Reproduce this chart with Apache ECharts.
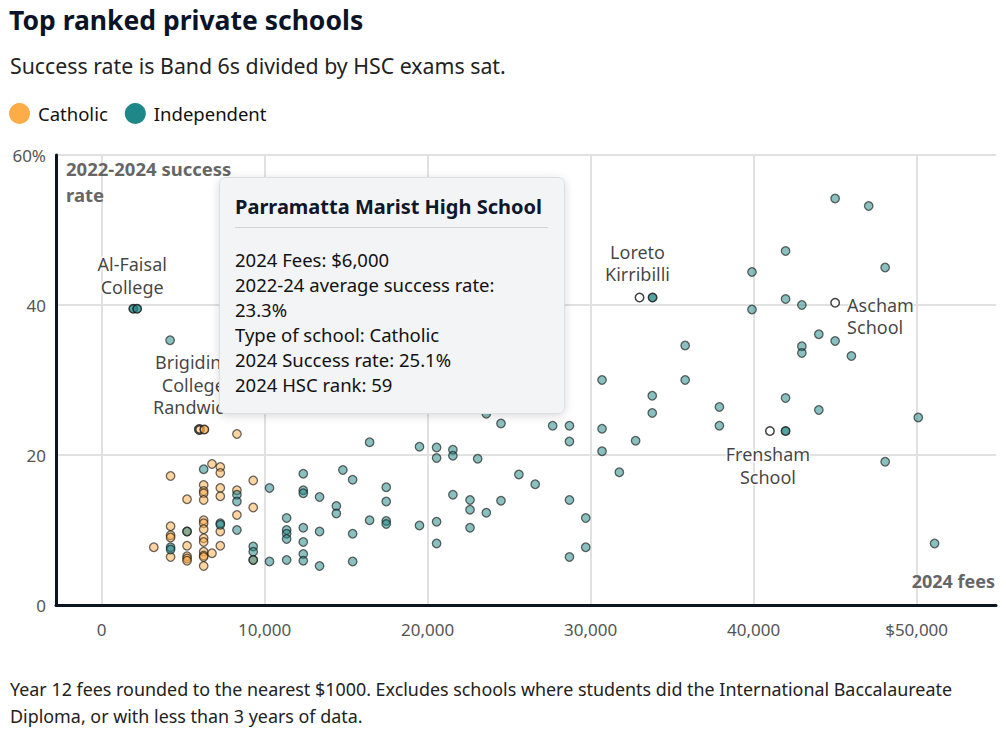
<!DOCTYPE html>
<html><head><meta charset="utf-8">
<script src="https://cdn.jsdelivr.net/npm/echarts@6/dist/echarts.min.js"></script>
<style>html,body{margin:0;padding:0;background:#fff}#c{width:1006px;height:734px}</style>
</head><body><div id="c"></div>
<script>
// ---- data (fees in $, success rate in %) ----
const catholicFees = [4230,6770,7280,7280,6260,6260,6260,6260,5240,7280,7280,8300,9300,9300,8300,4230,4230,4230,4230,3200,5240,5240,5240,5240,6260,6260,6260,6260,6260,6260,6260,6260,6260,6770,7280,7280,8300,5240,9300];
const catholicRate = [17.2,18.8,18.4,17.6,16.0,15.2,14.9,14.0,14.1,15.6,14.5,15.3,16.6,13.0,12.0,10.5,9.3,9.0,6.4,7.7,7.9,6.5,6.2,5.9,11.3,10.9,10.1,8.9,8.4,7.1,6.6,6.4,5.2,6.9,9.8,7.9,22.8,9.8,6.0];

const independentFees = [6260,4230,4230,5240,7280,7280,8300,8300,8300,9300,9300,9300,10300,10300,11350,11350,11350,11350,11350,12370,12370,12370,12370,12370,12370,12370,13370,13370,13370,14400,14400,14800,15400,15400,15400,16440,16440,17460,17460,17460,17460,19500,19500,20550,20550,20550,20550,21550,21550,21550,22600,22600,22600,23070,23600,23600,24500,24500,25600,26600,27670,28700,28700,28700,28700,29700,29700,30700,30700,30700,31760,32760,33780,33780,35800,35800,37900,37900,39900,39900,41960,41960,41960,42960,42960,42960,44000,44000,45000,45000,46000,47060,48070,48070,50100,51100,4200];
const independentRate = [18.1,7.7,7.4,9.8,10.9,10.7,10.0,14.7,13.8,7.8,7.1,6.0,15.6,5.8,11.6,10.0,9.5,8.8,6.0,17.5,15.3,14.9,10.3,8.4,6.8,5.9,14.4,9.8,5.2,13.2,12.2,18.0,16.7,9.5,5.8,21.7,11.3,15.7,13.8,11.2,10.8,21.1,10.6,21.0,19.6,11.1,8.2,20.7,19.9,14.7,14.0,12.7,10.3,19.5,25.5,12.3,24.2,13.9,17.4,16.1,23.9,23.9,21.8,14.0,6.4,11.6,7.7,30.0,23.5,20.5,17.7,21.9,27.9,25.6,34.6,30.0,26.4,23.9,44.4,39.4,47.2,40.8,27.6,40.0,34.5,33.6,36.1,26.0,54.2,35.2,33.2,53.2,45.0,19.1,25.0,8.2,35.3];

// annotated / highlighted schools
const highlightSchools = ['Al-Faisal College','Al-Faisal College','Parramatta Marist High School','Brigidine College Randwick','Loreto Kirribilli','Frensham School'];
const highlightFees = [1940,2180,6000,6300,33800,41960];
const highlightRate = [39.5,39.5,23.4,23.4,41.0,23.2];
const highlightType = ['Independent','Independent','Catholic','Catholic','Independent','Independent'];

const outlineSchools = ['Loreto Kirribilli','Ascham School','Frensham School'];
const outlineFees = [33000,45000,41000];
const outlineRate = [41.0,40.3,23.2];

const xTicks = [0,10000,20000,30000,40000,50000];

// ---- styles ----
const FONT = 'Noto Sans';
const COLORS = {Catholic:'#fdac48', Independent:'#1e8787'};
const labelBase = {show:true, fontFamily:FONT, fontSize:18, lineHeight:22.5, color:'#111', textBorderColor:'#fff', textBorderWidth:3};
const annLabels = {
  'Al-Faisal College': {text:'Al-Faisal\nCollege', position:'top', distance:6, offset:[-5,0]},
  'Brigidine College Randwick': {text:'Brigidine\nCollege\nRandwick', position:'top', distance:6, offset:[-11,0]},
  'Loreto Kirribilli': {text:'Loreto\nKirribilli', position:'top', distance:7, offset:[-2,0]},
  'Ascham School': {text:'Ascham\nSchool', position:'right', distance:7, offset:[0,13], align:'left'},
  'Frensham School': {text:'Frensham\nSchool', position:'bottom', distance:7, offset:[-2,0]}
};
function pairs(xs, ys){ return xs.map((x,i)=>[x, ys[i]]); }

const highlightData = highlightFees.map((x,i)=>{
  const t = highlightType[i];
  const d = {name: highlightSchools[i], value:[x, highlightRate[i]],
    itemStyle:{color: t==='Catholic' ? 'rgba(253,172,72,0.9)' : 'rgba(30,135,135,0.95)', borderColor:'#111', borderWidth:1.5}};
  if (i===2) d.itemStyle = {color:'rgba(253,172,72,0.5)', borderColor:'#111', borderWidth:2.6};
  const a = annLabels[highlightSchools[i]];
  if (a && (i===1 || i===3)) {
    d.label = Object.assign({}, labelBase, {formatter:a.text, position:a.position, distance:a.distance, offset:a.offset, align:a.align||'center'});
  }
  return d;
});
const outlineData = outlineFees.map((x,i)=>{
  const a = annLabels[outlineSchools[i]];
  return {name: outlineSchools[i], value:[x, outlineRate[i]],
    label: Object.assign({}, labelBase, {formatter:a.text, position:a.position, distance:a.distance, offset:a.offset, align:a.align||'center'})};
});

const tipLines = ['2024 Fees: $6,000','2022-24 average success rate:','23.3%','Type of school: Catholic','2024 Success rate: 25.1%','2024 HSC rank: 59'];

const chart = echarts.init(document.getElementById('c'), null, {renderer:'svg'});
chart.setOption({
  backgroundColor:'#fff',
  animation:false,
  textStyle:{fontFamily:FONT},
  title:[
    {text:'Top ranked private schools', left:4, top:1, textStyle:{fontFamily:FONT, fontSize:26.5, fontWeight:'bold', color:'#0b1426'}},
    {text:'Success rate is Band 6s divided by HSC exams sat.', left:5, top:50, textStyle:{fontFamily:FONT, fontSize:21.3, fontWeight:'normal', color:'#222'}},
    {text:'Year 12 fees rounded to the nearest $1000. Excludes schools where students did the International Baccalaureate\nDiploma, or with less than 3 years of data.', left:5, top:670, textStyle:{fontFamily:FONT, fontSize:17.9, fontWeight:'normal', lineHeight:27, color:'#222'}}
  ],
  legend:{
    left:4, top:98, itemWidth:21, itemHeight:21, itemGap:17, icon:'circle',
    textStyle:{fontFamily:FONT, fontSize:18.5, color:'#111', padding:[0,0,0,3]},
    data:[{name:'Catholic', itemStyle:{color:COLORS.Catholic, borderWidth:0, opacity:1}},
          {name:'Independent', itemStyle:{color:COLORS.Independent, borderWidth:0, opacity:1}}]
  },
  grid:{left:56, right:10, top:155, bottom:129, containLabel:false},
  xAxis:{
    type:'value', min:-2800, max:54870,
    axisLine:{show:true, onZero:false, lineStyle:{color:'#0d1321', width:3}},
    axisTick:{show:false, customValues:xTicks},
    splitLine:{show:true, lineStyle:{color:'#e1e1e1', width:2}},
    axisLabel:{customValues:xTicks, margin:16, fontFamily:FONT, fontSize:17, color:'#555',
      formatter:v=> (v===50000?'$':'') + (v===0?'0':v.toLocaleString('en-US'))}
  },
  yAxis:{
    type:'value', min:0, max:60, interval:20,
    axisLine:{show:true, onZero:false, lineStyle:{color:'#0d1321', width:3}},
    axisTick:{show:false},
    splitLine:{show:true, lineStyle:{color:'#e1e1e1', width:2}},
    axisLabel:{margin:10, fontFamily:FONT, fontSize:17, color:'#555', formatter:v=> v===60?'60%':String(v)}
  },
  series:[
    {name:'Catholic', type:'scatter', symbolSize:8.5, data:pairs(catholicFees, catholicRate),
      itemStyle:{color:'rgba(253,172,72,0.65)', borderColor:'rgba(20,20,20,0.8)', borderWidth:1.3}},
    {name:'Independent', type:'scatter', symbolSize:8.5, data:pairs(independentFees, independentRate),
      itemStyle:{color:'rgba(30,135,135,0.65)', borderColor:'rgba(20,20,20,0.8)', borderWidth:1.3}},
    {name:'highlight', type:'scatter', symbolSize:8.5, data:highlightData, z:3},
    {name:'outline', type:'scatter', symbolSize:8.5, data:outlineData, z:4,
      itemStyle:{color:'#fff', borderColor:'#111', borderWidth:1.5}}
  ],
  graphic:[
    {type:'text', left:66, top:155, z:50, style:{text:'2022-2024 success\nrate', font:'bold 18.5px "Noto Sans"', lineHeight:26, fill:'#666'}},
    {type:'text', right:11, top:572, z:50, style:{text:'2024 fees', font:'bold 18px "Noto Sans"', fill:'#666'}},
    {type:'rect', left:219, top:177, z:100, shape:{x:0, y:0, width:345, height:236, r:6},
      style:{fill:'#f3f4f6', stroke:'#dedfe2', lineWidth:1, shadowBlur:10, shadowColor:'rgba(0,0,0,0.15)', shadowOffsetY:2}},
    {type:'text', left:235, top:196, z:101, style:{text:'Parramatta Marist High School', font:'bold 20px "Noto Sans"', fill:'#0f172a'}},
    {type:'rect', left:235, top:227, z:101, shape:{x:0, y:0, width:313, height:1}, style:{fill:'#cfd3da'}},
    {type:'text', left:235, top:247, z:101, style:{text:tipLines.join('\n'), font:'18.5px "Noto Sans"', lineHeight:25, fill:'#111'}}
  ]
});
</script></body></html>
